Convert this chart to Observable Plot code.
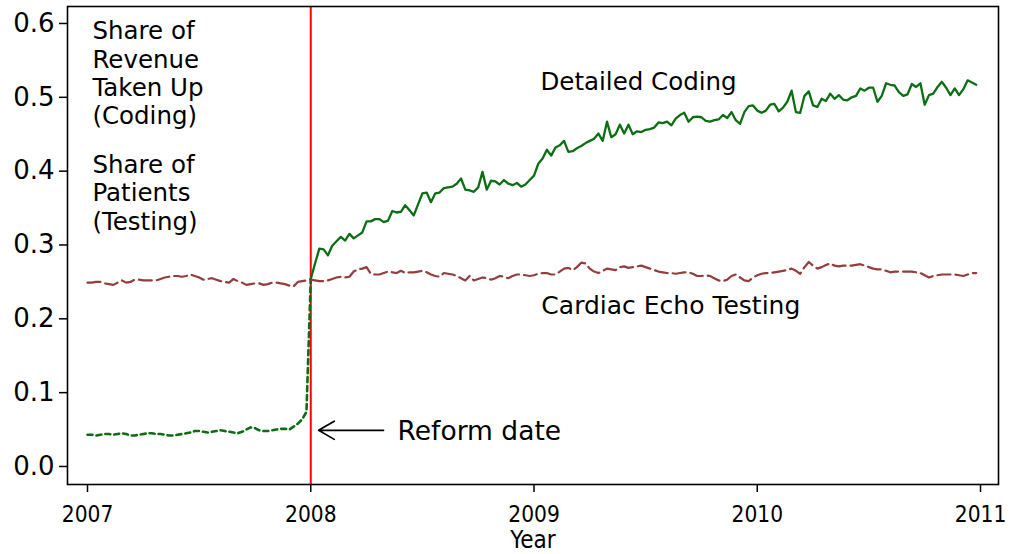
<!DOCTYPE html>
<html><head><meta charset="utf-8">
<script src="https://cdn.jsdelivr.net/npm/d3@7"></script>
<script src="https://cdn.jsdelivr.net/npm/@observablehq/plot@0.6"></script>
<style>
body{margin:0;background:#fff;}
#chart svg{font-family:"DejaVu Sans",sans-serif;background:#fff;}
#chart svg g[aria-label="x-axis tick label"] text,
#chart svg g.xtitle text{font-family:"DejaVu Sans Condensed","DejaVu Sans",sans-serif;font-stretch:condensed;}
</style></head><body><div id="chart"></div>
<script>
// ---- data (weekly observations, 52 per year) ----
const startYear = 2007;
const weeksPerYear = 52;
const reformYear = 2008;
const xTicks = [2007, 2008, 2009, 2010, 2011];
const yTicks = [0.0, 0.1, 0.2, 0.3, 0.4, 0.5, 0.6];
const xTitle = "Year";

// Detailed coding share, 2007 (pre-reform, dotted)
const codingPre = [0.043,0.043,0.042,0.043,0.044,0.044,0.043,0.044,
  0.045,0.044,0.042,0.042,0.043,0.044,0.045,0.045,
  0.044,0.044,0.043,0.042,0.042,0.043,0.044,0.045,
  0.046,0.048,0.048,0.047,0.046,0.047,0.048,0.049,
  0.048,0.047,0.046,0.045,0.047,0.050,0.053,0.052,
  0.049,0.048,0.048,0.049,0.050,0.051,0.051,0.050,
  0.054,0.058,0.064,0.074];

// Detailed coding share, 2008-2010 (post-reform, solid)
const codingPost = [
  0.254,0.275,0.295,0.294,0.286,0.299,0.305,0.311,0.306,0.315,
  0.309,0.313,0.317,0.332,0.332,0.335,0.335,0.331,0.333,0.346,
  0.344,0.345,0.354,0.347,0.340,0.355,0.370,0.371,0.358,0.370,
  0.371,0.377,0.378,0.379,0.383,0.390,0.375,0.374,0.372,0.378,
  0.399,0.375,0.387,0.386,0.382,0.388,0.383,0.381,0.384,0.379,
  0.382,0.388,
  0.394,0.410,0.417,0.429,0.421,0.432,0.435,0.441,0.426,0.427,
  0.431,0.434,0.438,0.441,0.444,0.451,0.441,0.467,0.446,0.450,
  0.463,0.451,0.463,0.450,0.454,0.453,0.456,0.457,0.459,0.466,
  0.465,0.467,0.462,0.471,0.476,0.479,0.467,0.473,0.474,0.473,
  0.468,0.467,0.469,0.470,0.476,0.472,0.480,0.469,0.464,0.480,
  0.488,0.489,
  0.482,0.479,0.482,0.490,0.491,0.481,0.486,0.494,0.509,0.480,
  0.479,0.502,0.508,0.489,0.487,0.498,0.495,0.505,0.498,0.503,
  0.497,0.496,0.500,0.502,0.512,0.509,0.513,0.513,0.494,0.502,
  0.519,0.517,0.516,0.507,0.502,0.504,0.518,0.514,0.519,0.490,
  0.503,0.505,0.514,0.521,0.513,0.503,0.512,0.503,0.511,0.523,
  0.520,0.517];

// Cardiac echo testing share, 2007-2010
const echo = [
  0.249,0.249,0.250,0.250,0.248,0.247,0.246,0.249,0.252,0.249,
  0.250,0.253,0.253,0.252,0.252,0.252,0.252,0.254,0.256,0.257,
  0.258,0.258,0.257,0.258,0.260,0.258,0.256,0.253,0.254,0.255,
  0.253,0.251,0.250,0.249,0.254,0.251,0.249,0.246,0.247,0.248,
  0.248,0.246,0.247,0.249,0.249,0.248,0.247,0.245,0.244,0.250,
  0.251,0.252,0.253,0.252,0.251,0.251,0.252,0.254,0.256,0.257,
  0.256,0.257,0.264,0.267,0.268,0.270,0.261,0.260,0.260,0.262,
  0.264,0.263,0.262,0.265,0.262,0.263,0.263,0.264,0.265,0.263,
  0.260,0.258,0.257,0.262,0.261,0.260,0.258,0.255,0.252,0.258,
  0.252,0.254,0.256,0.255,0.253,0.255,0.258,0.257,0.255,0.258,
  0.260,0.260,0.259,0.258,0.259,0.261,0.262,0.262,0.260,0.260,
  0.264,0.268,0.269,0.266,0.270,0.276,0.275,0.268,0.264,0.262,
  0.265,0.268,0.267,0.266,0.270,0.271,0.269,0.270,0.271,0.272,
  0.270,0.268,0.266,0.264,0.263,0.262,0.262,0.261,0.262,0.263,
  0.263,0.261,0.258,0.258,0.259,0.258,0.255,0.252,0.251,0.253,
  0.258,0.260,0.256,0.252,0.251,0.256,0.259,0.261,0.262,0.262,
  0.263,0.264,0.265,0.266,0.268,0.265,0.261,0.270,0.277,0.272,
  0.268,0.270,0.273,0.275,0.272,0.271,0.272,0.272,0.272,0.273,
  0.274,0.272,0.270,0.268,0.267,0.267,0.265,0.263,0.264,0.264,
  0.264,0.264,0.264,0.263,0.262,0.259,0.256,0.258,0.259,0.260,
  0.260,0.260,0.260,0.259,0.258,0.260,0.262,0.262];

const labelCoding = "Detailed Coding";
const labelEcho = "Cardiac Echo Testing";
const labelReform = "Reform date";
const labelAxisTop = "Share of\nRevenue\nTaken Up\n(Coding)";
const labelAxisBottom = "Share of\nPatients\n(Testing)";

// ---- build tables ----
const weekYear = i => startYear + i / weeksPerYear;
const reformWeek = codingPre.length;
const preData = codingPre.map((v, i) => ({x: weekYear(i), y: v}));
preData.push({x: weekYear(reformWeek), y: codingPost[0]});
const postData = codingPost.map((v, i) => ({x: weekYear(reformWeek + i), y: v}));
const echoData = echo.map((v, i) => ({x: weekYear(i), y: v}));

const green = "#0b6e12";
const maroon = "#953c3c";

const chart = Plot.plot({
  width: 1011, height: 554,
  marginLeft: 67, marginRight: 13, marginTop: 6, marginBottom: 70,
  x: {domain: [2006.9104, 2011.0806]},
  y: {domain: [-0.0244, 0.623]},
  marks: [
    Plot.axisY({ticks: yTicks, tickFormat: d => d.toFixed(1), tickSize: 8, tickPadding: 5,
      fontSize: 26, label: null, strokeWidth: 1.5}),
    Plot.axisX({ticks: xTicks, tickFormat: d => String(d), tickSize: 8, tickPadding: 14,
      fontSize: 22.5, strokeWidth: 1.5, label: null}),
    Plot.text([xTitle], {frameAnchor: "bottom", text: d => d, lineAnchor: "bottom", dy: 63,
      fontSize: 24, fill: "black", className: "xtitle"}),
    Plot.ruleX([reformYear], {stroke: "#ff0000", strokeWidth: 2}),
    Plot.line(preData, {x: "x", y: "y", stroke: green, strokeWidth: 2.6, strokeDasharray: "5,4"}),
    Plot.line(echoData, {x: "x", y: "y", stroke: maroon, strokeWidth: 2.2, strokeDasharray: "13,5"}),
    Plot.line(postData, {x: "x", y: "y", stroke: green, strokeWidth: 2.3}),
    Plot.text([labelAxisTop], {x: 2007.022, y: 0.606, text: d => d, textAnchor: "start", lineAnchor: "top",
      fontSize: 24.5, lineHeight: 1.16, fill: "black"}),
    Plot.text([labelAxisBottom], {x: 2007.022, y: 0.425, text: d => d, textAnchor: "start", lineAnchor: "top",
      fontSize: 24.5, lineHeight: 1.16, fill: "black"}),
    Plot.text([labelCoding], {x: 2009.029, y: 0.534, text: d => d, textAnchor: "start", lineAnchor: "top",
      fontSize: 24.5, fill: "black"}),
    Plot.text([labelEcho], {x: 2009.033, y: 0.231, text: d => d, textAnchor: "start", lineAnchor: "top",
      fontSize: 25, fill: "black"}),
    Plot.text([labelReform], {x: 2008.389, y: 0.062, text: d => d, textAnchor: "start", lineAnchor: "top",
      fontSize: 26.5, fill: "black"}),
    Plot.arrow([{x1: 2008.326, x2: 2008.035, y: 0.049}], {x1: "x1", x2: "x2", y1: "y", y2: "y",
      stroke: "black", strokeWidth: 1.7, headLength: 16, headAngle: 60}),
    Plot.frame({stroke: "black", strokeWidth: 1.6})
  ]
});
document.getElementById("chart").appendChild(chart);
</script>
</body></html>
